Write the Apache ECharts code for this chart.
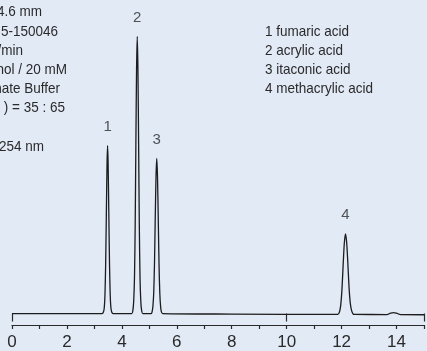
<!DOCTYPE html>
<html>
<head>
<meta charset="utf-8">
<script src="https://cdn.jsdelivr.net/npm/echarts@6/dist/echarts.min.js"></script>
<style>
  html, body { margin: 0; padding: 0; background: #e2eaf6; }
  #chart { width: 427px; height: 351px; }
</style>
</head>
<body>
<div id="chart"></div>
<script>
// chromatogram trace: [retention time (min), detector signal]
var trace = [
  [0, 0], [1.5, 0], [3.28, 0],
  [3.33, 1.5], [3.36, 6], [3.385, 19], [3.41, 50], [3.435, 100], [3.46, 150], [3.48, 168.5],
  [3.5, 150], [3.525, 100], [3.55, 50], [3.575, 19], [3.6, 6], [3.63, 1.5], [3.68, 0],
  [4.36, 0], [4.4, 3], [4.43, 12], [4.46, 37], [4.485, 89], [4.51, 170], [4.535, 245], [4.56, 278],
  [4.585, 245], [4.61, 170], [4.635, 89], [4.66, 37], [4.69, 12], [4.72, 3], [4.76, 0],
  [5.07, 0], [5.1, 1.7], [5.13, 7], [5.16, 21], [5.1875, 50], [5.215, 95], [5.2425, 137], [5.27, 155.5],
  [5.2975, 137], [5.325, 95], [5.3525, 50], [5.38, 21], [5.41, 7], [5.44, 1.7], [5.49, 0],
  [8, -0.5], [11.86, -0.9],
  [11.925, 1.8], [11.97, 9], [12.0125, 24], [12.055, 48], [12.0975, 70], [12.14, 80],
  [12.1825, 72], [12.225, 52], [12.2675, 28], [12.31, 12], [12.355, 4], [12.41, 0], [12.47, -0.9],
  [13.65, -1], [13.78, 0.3], [13.89, 1], [14.0, 0.3], [14.15, -1.1], [15, -1.2]
]

// peak labels
var peakTimes = [3.48, 4.56, 5.27, 12.14]
var peakHeights = [168.5, 278, 155.5, 80]
var peakLabels = ['1', '2', '3', '4']

var compounds = ['1 fumaric acid', '2 acrylic acid', '3 itaconic acid', '4 methacrylic acid']
// condition block, cut off at the left edge of the picture
var conditionLines = ['4.6 mm', '5-150046', '/min', 'hol / 20 mM', 'hate Buffer', ') = 35 : 65', '', '254 nm']
var conditionRight = [42, 58, 23, 67, 60, 65, 0, 44]

var xTicks = [0, 2, 4, 6, 8, 10, 12, 14]

var textColor = '#2a2a2a'
var textFont = 'Liberation Sans, Arial, sans-serif'

var graphics = []
conditionLines.forEach(function (t, i) {
  if (!t) return
  graphics.push({
    type: 'text',
    x: conditionRight[i],
    y: 12.3 + i * 19.2,
    scaleX: 0.9,
    style: {
      text: t, fill: textColor, font: '15px ' + textFont,
      textAlign: 'right', textVerticalAlign: 'middle'
    }
  })
})
compounds.forEach(function (t, i) {
  graphics.push({
    type: 'text',
    x: 265,
    y: 31.6 + i * 19.2,
    scaleX: 0.9,
    style: {
      text: t, fill: textColor, font: '15px ' + textFont,
      textAlign: 'left', textVerticalAlign: 'middle'
    }
  })
})

var myChart = echarts.init(document.getElementById('chart'))
myChart.setOption({
  backgroundColor: '#e2eaf6',
  animation: false,
  grid: { left: 12, right: 0, top: 0, bottom: 25 },
  xAxis: [
    {
      type: 'value',
      min: 0,
      max: 15,
      interval: 1,
      position: 'bottom',
      splitLine: { show: false },
      axisLine: { show: true, onZero: false, lineStyle: { color: '#2a2a2a', width: 1.2 } },
      axisTick: { show: true, length: 4, lineStyle: { color: '#2a2a2a', width: 1.2 } },
      axisLabel: {
        margin: 9,
        color: textColor,
        fontSize: 17,
        fontFamily: textFont,
        formatter: function (v) { return xTicks.indexOf(v) >= 0 ? String(v) : '' }
      }
    },
    {
      type: 'value',
      min: 0,
      max: 15,
      interval: 10,
      position: 'bottom',
      offset: 0,
      splitLine: { show: false },
      axisLine: { show: false },
      axisTick: { show: true, length: 8, lineStyle: { color: '#2a2a2a', width: 1.2 } },
      axisLabel: { show: false }
    }
  ],
  yAxis: {
    type: 'value',
    min: -11.5,
    max: 314.5,
    show: false,
    splitLine: { show: false }
  },
  series: [
    {
      type: 'line',
      data: trace,
      showSymbol: false,
      smooth: 0.25,
      lineStyle: { color: '#1c1c1c', width: 1.3 }
    },
    {
      type: 'scatter',
      symbolSize: 0,
      data: peakTimes.map(function (t, i) { return [t, peakHeights[i]] }),
      label: {
        show: true,
        position: 'top',
        distance: 11,
        color: textColor,
        fontSize: 15,
        fontFamily: textFont,
        formatter: function (p) { return peakLabels[p.dataIndex] }
      }
    }
  ],
  graphic: graphics
})
</script>
</body>
</html>
